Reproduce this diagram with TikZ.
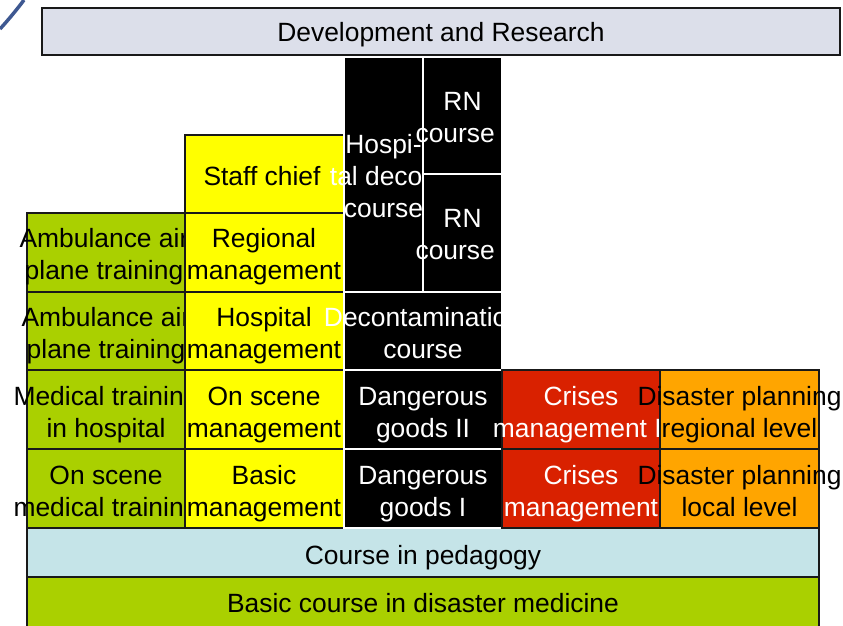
\documentclass[tikz,border=0pt]{standalone}
\usepackage{fontspec}
\setmainfont{Liberation Sans}
\definecolor{titlefill}{RGB}{220,223,234}
\definecolor{grn}{RGB}{170,208,0}
\definecolor{yel}{RGB}{255,255,0}
\definecolor{redc}{RGB}{217,33,0}
\definecolor{org}{RGB}{255,165,0}
\definecolor{cyn}{RGB}{197,228,232}
\definecolor{logoblue}{RGB}{62,88,145}
\tikzset{
  cellbox/.style={draw=black!90, line width=1.5pt},
  blackcell/.style={draw=white, fill=black, line width=1.5pt},
  lbl/.style={inner sep=0pt, align=center, font=\fontsize{26.4}{32}\selectfont},
  wlbl/.style={lbl, text=white},
}
\begin{document}
\begin{tikzpicture}[x=1pt,y=-1pt]
\useasboundingbox (0,0) rectangle (843,626);
% logo fragment
\draw[logoblue, line width=3.5pt] (0,29) .. controls (10,18) and (18,8) .. (24,0);
% title
\path[cellbox, fill=titlefill] (42,8) rectangle (840,55);
\node[lbl] (title) at (441,35) {Development and Research};
% bottom bars
\path[cellbox, fill=cyn] (27,528) rectangle (819,577);
\node[lbl] (ped) at (423,558) {Course in pedagogy};
\path[cellbox, fill=grn] (27,577) rectangle (819,627);
\node[lbl] (basic) at (423,603) {Basic course in disaster medicine};
% green column
\path[cellbox, fill=grn] (27,213) rectangle (185,292);
\node[lbl] (g1) at (104,257) {Ambulance air\\plane training};
\path[cellbox, fill=grn] (27,292) rectangle (185,370);
\node[lbl] (g2) at (106,336) {Ambulance air\\plane training};
\path[cellbox, fill=grn] (27,370) rectangle (185,449);
\node[lbl] (g3) at (106,415) {Medical training\\in hospital};
\path[cellbox, fill=grn] (27,449) rectangle (185,528);
\node[lbl] (g4) at (106,494) {On scene\\medical training};
% yellow column
\path[cellbox, fill=yel] (185,135) rectangle (344,213);
\node[lbl] (y0) at (262,176) {Staff chief};
\path[cellbox, fill=yel] (185,213) rectangle (344,292);
\node[lbl] (y1) at (264,257) {Regional\\management};
\path[cellbox, fill=yel] (185,292) rectangle (344,370);
\node[lbl] (y2) at (264,336) {Hospital\\management};
\path[cellbox, fill=yel] (185,370) rectangle (344,449);
\node[lbl] (y3) at (264,415) {On scene\\management};
\path[cellbox, fill=yel] (185,449) rectangle (344,528);
\node[lbl] (y4) at (264,494) {Basic\\management};
% black column
\path[blackcell] (344,57) rectangle (423,292);
\node[wlbl] (k0) at (383.5,176) {Hospi-\\tal decon\\course};
\path[blackcell] (423,57) rectangle (502,174);
\node[wlbl] (k1) at (462.5,118) {RN\\course I};
\path[blackcell] (423,174) rectangle (502,292);
\node[wlbl] (k2) at (462.5,235) {RN\\course\phantom{ I}};
\path[blackcell] (344,292) rectangle (502,370);
\node[wlbl] (k3) at (423,333) {Decontamination\\course};
\path[blackcell] (344,370) rectangle (502,449);
\node[wlbl] (k4) at (423,415) {Dangerous\\goods II};
\path[blackcell] (344,449) rectangle (502,528);
\node[wlbl] (k5) at (423,494) {Dangerous\\goods I};
% red column
\path[cellbox, fill=redc] (502,370) rectangle (660,449);
\node[wlbl] (r1) at (581,415) {Crises\\management II};
\path[cellbox, fill=redc] (502,449) rectangle (660,528);
\node[wlbl] (r2) at (581,494) {Crises\\management};
% orange column
\path[cellbox, fill=org] (660,370) rectangle (819,449);
\node[lbl] (o1) at (739.5,414.5) {Disaster planning\\regional level};
\path[cellbox, fill=org] (660,449) rectangle (819,528);
\node[lbl] (o2) at (739.5,491) {Disaster planning\\local level};
\end{tikzpicture}
\end{document}
